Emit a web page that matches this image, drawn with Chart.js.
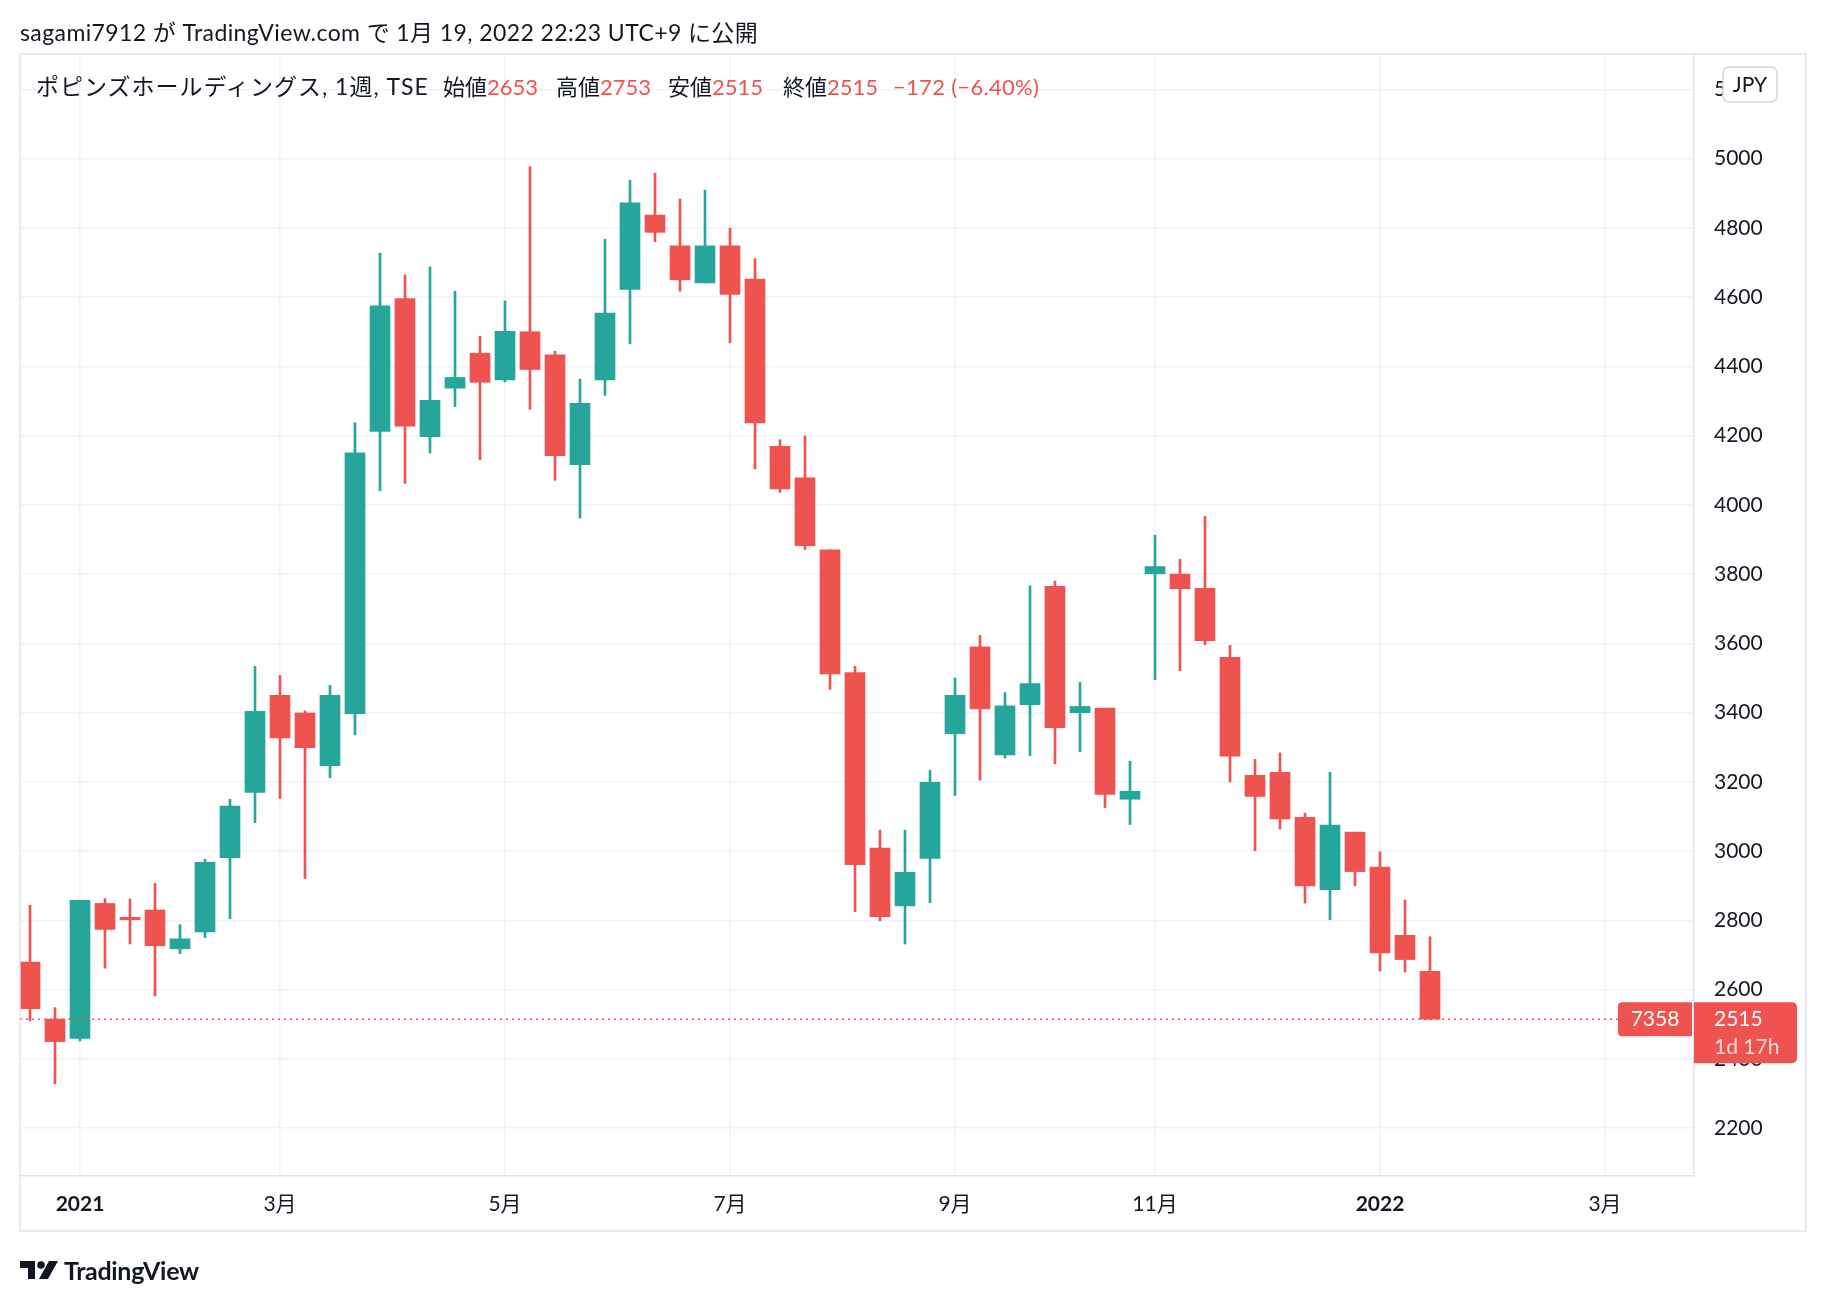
<!DOCTYPE html>
<html>
<head>
<meta charset="utf-8">
<script src="https://cdn.jsdelivr.net/npm/chart.js@4/dist/chart.umd.min.js"></script>
<style>
html, body { margin: 0; padding: 0; background: #fff; }
body { width: 1826px; height: 1302px; position: relative; overflow: hidden;
  font-family: Lato, "Noto Sans CJK JP", sans-serif; color: #131722; }
#chart { position: absolute; left: 0; top: 0; }
#title { position: absolute; left: 20px; top: 17px; font-size: 23px; line-height: 30px; white-space: nowrap; letter-spacing: 0.4px; }
#legend { position: absolute; left: 0; top: 72px; font-size: 22px; line-height: 30px; white-space: nowrap; }
#legend span { position: absolute; top: 0; }
#legend .v { color: #ef5350; }
#logo { position: absolute; left: 20px; top: 1254px; height: 32px; display: flex; align-items: center; }
#logo span { font-size: 25px; font-weight: 700; margin-left: 6px; letter-spacing: -0.3px; }
</style>
</head>
<body>
<canvas id="chart" width="1826" height="1302"></canvas>
<div id="title">sagami7912 が TradingView.com で 1月 19, 2022 22:23 UTC+9 に公開</div>
<div id="legend">
  <span style="left:36px;top:-1px;font-size:23px;letter-spacing:1px">ポピンズホールディングス, 1週, TSE</span>
  <span style="left:443px">始値<span class="v" style="position:static">2653</span></span>
  <span style="left:556px">高値<span class="v" style="position:static">2753</span></span>
  <span style="left:668px">安値<span class="v" style="position:static">2515</span></span>
  <span style="left:783px">終値<span class="v" style="position:static">2515</span></span>
  <span class="v" style="left:893px;letter-spacing:0.3px">−172 (−6.40%)</span>
</div>
<div id="logo">
  <svg width="38" height="22" viewBox="0 0 38 22"><path d="M0 2h15v18h-7v-11h-8z" fill="#131722"/><circle cx="21" cy="6" r="3.8" fill="#131722"/><path d="M29 2h9l-10 18h-9z" fill="#131722"/></svg>
  <span>TradingView</span>
</div>
<script>
// weekly bars, week start dates
var weeks = ['2020-12-21','2020-12-28','2021-01-04','2021-01-11','2021-01-18','2021-01-25','2021-02-01','2021-02-08',
  '2021-02-15','2021-02-22','2021-03-01','2021-03-08','2021-03-15','2021-03-22','2021-03-29','2021-04-05',
  '2021-04-12','2021-04-19','2021-04-26','2021-05-03','2021-05-10','2021-05-17','2021-05-24','2021-05-31',
  '2021-06-07','2021-06-14','2021-06-21','2021-06-28','2021-07-05','2021-07-12','2021-07-19','2021-07-26',
  '2021-08-02','2021-08-09','2021-08-16','2021-08-23','2021-08-30','2021-09-06','2021-09-13','2021-09-20',
  '2021-09-27','2021-10-04','2021-10-11','2021-10-18','2021-10-25','2021-11-01','2021-11-08','2021-11-15',
  '2021-11-22','2021-11-29','2021-12-06','2021-12-13','2021-12-20','2021-12-27','2022-01-03','2022-01-10','2022-01-17'];
var opens  = [2680,2515,2459,2849,2809,2830,2718,2767,2981,3170,3450,3399,3247,3397,4212,4596,4197,4337,4438,4361,
  4500,4433,4116,4361,4622,4837,4748,4641,4748,4652,4169,4078,3870,3516,3009,2842,2979,3339,3590,3278,
  3423,3765,3400,3413,3150,3801,3800,3759,3560,3219,3228,3098,2889,3055,2954,2757,2653];
var highs  = [2844,2548,2858,2863,2862,2907,2788,2977,3150,3534,3507,3405,3479,4237,4727,4664,4687,4617,4487,4589,
  4977,4444,4363,4767,4937,4958,4883,4909,4799,4711,4188,4199,3870,3534,3061,3061,3234,3500,3623,3458,
  3766,3780,3488,3413,3260,3912,3843,3967,3594,3265,3284,3110,3228,3055,2998,2859,2753];
var lows   = [2510,2328,2452,2662,2732,2582,2704,2750,2805,3082,3152,2921,3212,3336,4041,4062,4150,4284,4130,4355,
  4276,4071,3962,4316,4465,4760,4617,4641,4468,4104,4036,3871,3467,2825,2799,2732,2851,3161,3205,3269,
  3276,3252,3287,3126,3077,3495,3521,3596,3200,3001,3064,2850,2802,2900,2654,2651,2515];
var closes = [2545,2450,2858,2774,2802,2727,2747,2968,3130,3404,3327,3299,3450,4150,4575,4227,4302,4368,4354,4501,
  4391,4142,4293,4554,4872,4787,4650,4748,4608,4237,4046,3882,3512,2961,2811,2939,3199,3450,3411,3420,
  3484,3357,3418,3164,3173,3822,3758,3608,3274,3158,3093,2900,3075,2941,2706,2687,2515];

// time axis ticks (bar index) and labels
var xTickIdx = [2, 10, 19, 28, 37, 45, 54, 63];
var xTickLabels = ['2021', '3月', '5月', '7月', '9月', '11月', '2022', '3月'];
var yTickVals = [2200, 2400, 2600, 2800, 3000, 3200, 3400, 3600, 3800, 4000, 4200, 4400, 4600, 4800, 5000, 5200];

var lastClose = closes[closes.length - 1];
var lastBarLabel = '7358';
var countdown = '1d 17h';
var currency = 'JPY';

var UP = '#26a69a', DOWN = '#ef5350';
var barColors = closes.map(function (c, i) { return c >= opens[i] ? UP : DOWN; });

var bodies = opens.map(function (o, i) { return { x: i, y: [o, closes[i]] }; });
var wicks = opens.map(function (o, i) { return { x: i, y: [lows[i], highs[i]] }; });

Chart.defaults.font.family = 'Lato, "Noto Sans CJK JP", sans-serif';
Chart.defaults.color = '#131722';

var overlay = {
  id: 'overlay',
  afterDatasetsDraw: function (chart) {
    var ctx = chart.ctx, a = chart.chartArea, ys = chart.scales.y;
    var py = ys.getPixelForValue(lastClose);
    ctx.save();
    ctx.strokeStyle = DOWN;
    ctx.lineWidth = 1.5;
    ctx.setLineDash([2, 4]);
    ctx.beginPath();
    ctx.moveTo(a.left, py);
    ctx.lineTo(a.right, py);
    ctx.stroke();
    ctx.restore();
  },
  afterDraw: function (chart) {
    var ctx = chart.ctx, a = chart.chartArea, ys = chart.scales.y, xs = chart.scales.x;
    var py = ys.getPixelForValue(lastClose);
    ctx.save();
    // outer frame
    ctx.strokeStyle = '#e0e3eb';
    ctx.lineWidth = 1.5;
    ctx.strokeRect(a.left, a.top, ys.right - a.left, xs.bottom - a.top);

    // last bar label left of price scale
    ctx.fillStyle = DOWN;
    ctx.beginPath();
    ctx.roundRect(a.right - 76, py - 17, 74, 34, [4, 0, 0, 4]);
    ctx.fill();
    ctx.fillStyle = '#fff';
    ctx.font = '21px Lato, "Noto Sans CJK JP", sans-serif';
    ctx.textAlign = 'center';
    ctx.textBaseline = 'middle';
    ctx.fillText(lastBarLabel, a.right - 39, py);

    // last price + countdown
    ctx.fillStyle = DOWN;
    ctx.beginPath();
    ctx.roundRect(a.right, py - 17, 103, 61, [0, 5, 5, 0]);
    ctx.fill();
    ctx.textAlign = 'left';
    ctx.fillStyle = '#fff';
    ctx.fillText(String(lastClose), a.right + 20, py);
    ctx.fillStyle = 'rgba(255,255,255,0.8)';
    ctx.fillText(countdown, a.right + 20, py + 28);

    // currency badge
    ctx.fillStyle = '#fff';
    ctx.strokeStyle = '#d1d4dc';
    ctx.lineWidth = 1.5;
    ctx.beginPath();
    ctx.roundRect(a.right + 29, a.top + 13, 54, 35, 6);
    ctx.fill();
    ctx.stroke();
    ctx.fillStyle = '#131722';
    ctx.textAlign = 'center';
    ctx.fillText(currency, a.right + 56, a.top + 31);
    ctx.restore();
  }
};

new Chart(document.getElementById('chart'), {
  type: 'bar',
  data: {
    datasets: [
      { label: 'body', data: bodies, backgroundColor: barColors, barThickness: 20, minBarLength: 2,
        grouped: false, order: 1, borderWidth: 0 },
      { label: 'wick', data: wicks, backgroundColor: barColors, barThickness: 2,
        grouped: false, order: 2, borderWidth: 0 }
    ]
  },
  options: {
    responsive: false,
    animation: false,
    layout: { padding: { left: 20, top: 54, right: 20, bottom: 71 } },
    plugins: { legend: { display: false }, tooltip: { enabled: false } },
    scales: {
      x: {
        type: 'linear',
        offset: false,
        min: -0.4,
        max: 66.56,
        afterBuildTicks: function (axis) {
          axis.ticks = xTickIdx.map(function (v) { return { value: v }; });
        },
        afterFit: function (axis) { axis.height = 55; },
        grid: { color: '#f0f3fa', lineWidth: 1.5, drawTicks: false, offset: false },
        border: { display: true, color: '#e0e3eb', width: 1.5 },
        ticks: {
          autoSkip: false,
          maxRotation: 0,
          padding: 16,
          color: '#131722',
          font: function (c) {
            var lbl = c.tick ? xTickLabels[xTickIdx.indexOf(c.tick.value)] : '';
            return { size: 21, weight: /^\d{4}$/.test(lbl) ? 'bold' : 'normal' };
          },
          callback: function (v) { return xTickLabels[xTickIdx.indexOf(v)]; }
        }
      },
      y: {
        position: 'right',
        min: 2062,
        max: 5302,
        afterBuildTicks: function (axis) {
          axis.ticks = yTickVals.map(function (v) { return { value: v }; });
        },
        afterFit: function (axis) { axis.width = 112; },
        grid: { color: '#f0f3fa', lineWidth: 1.5, drawTicks: false },
        border: { display: true, color: '#e0e3eb', width: 1.5 },
        ticks: { padding: 20, color: '#131722', font: { size: 21 },
          callback: function (v) { return String(v); } }
      }
    }
  },
  plugins: [overlay]
});
</script>
</body>
</html>
